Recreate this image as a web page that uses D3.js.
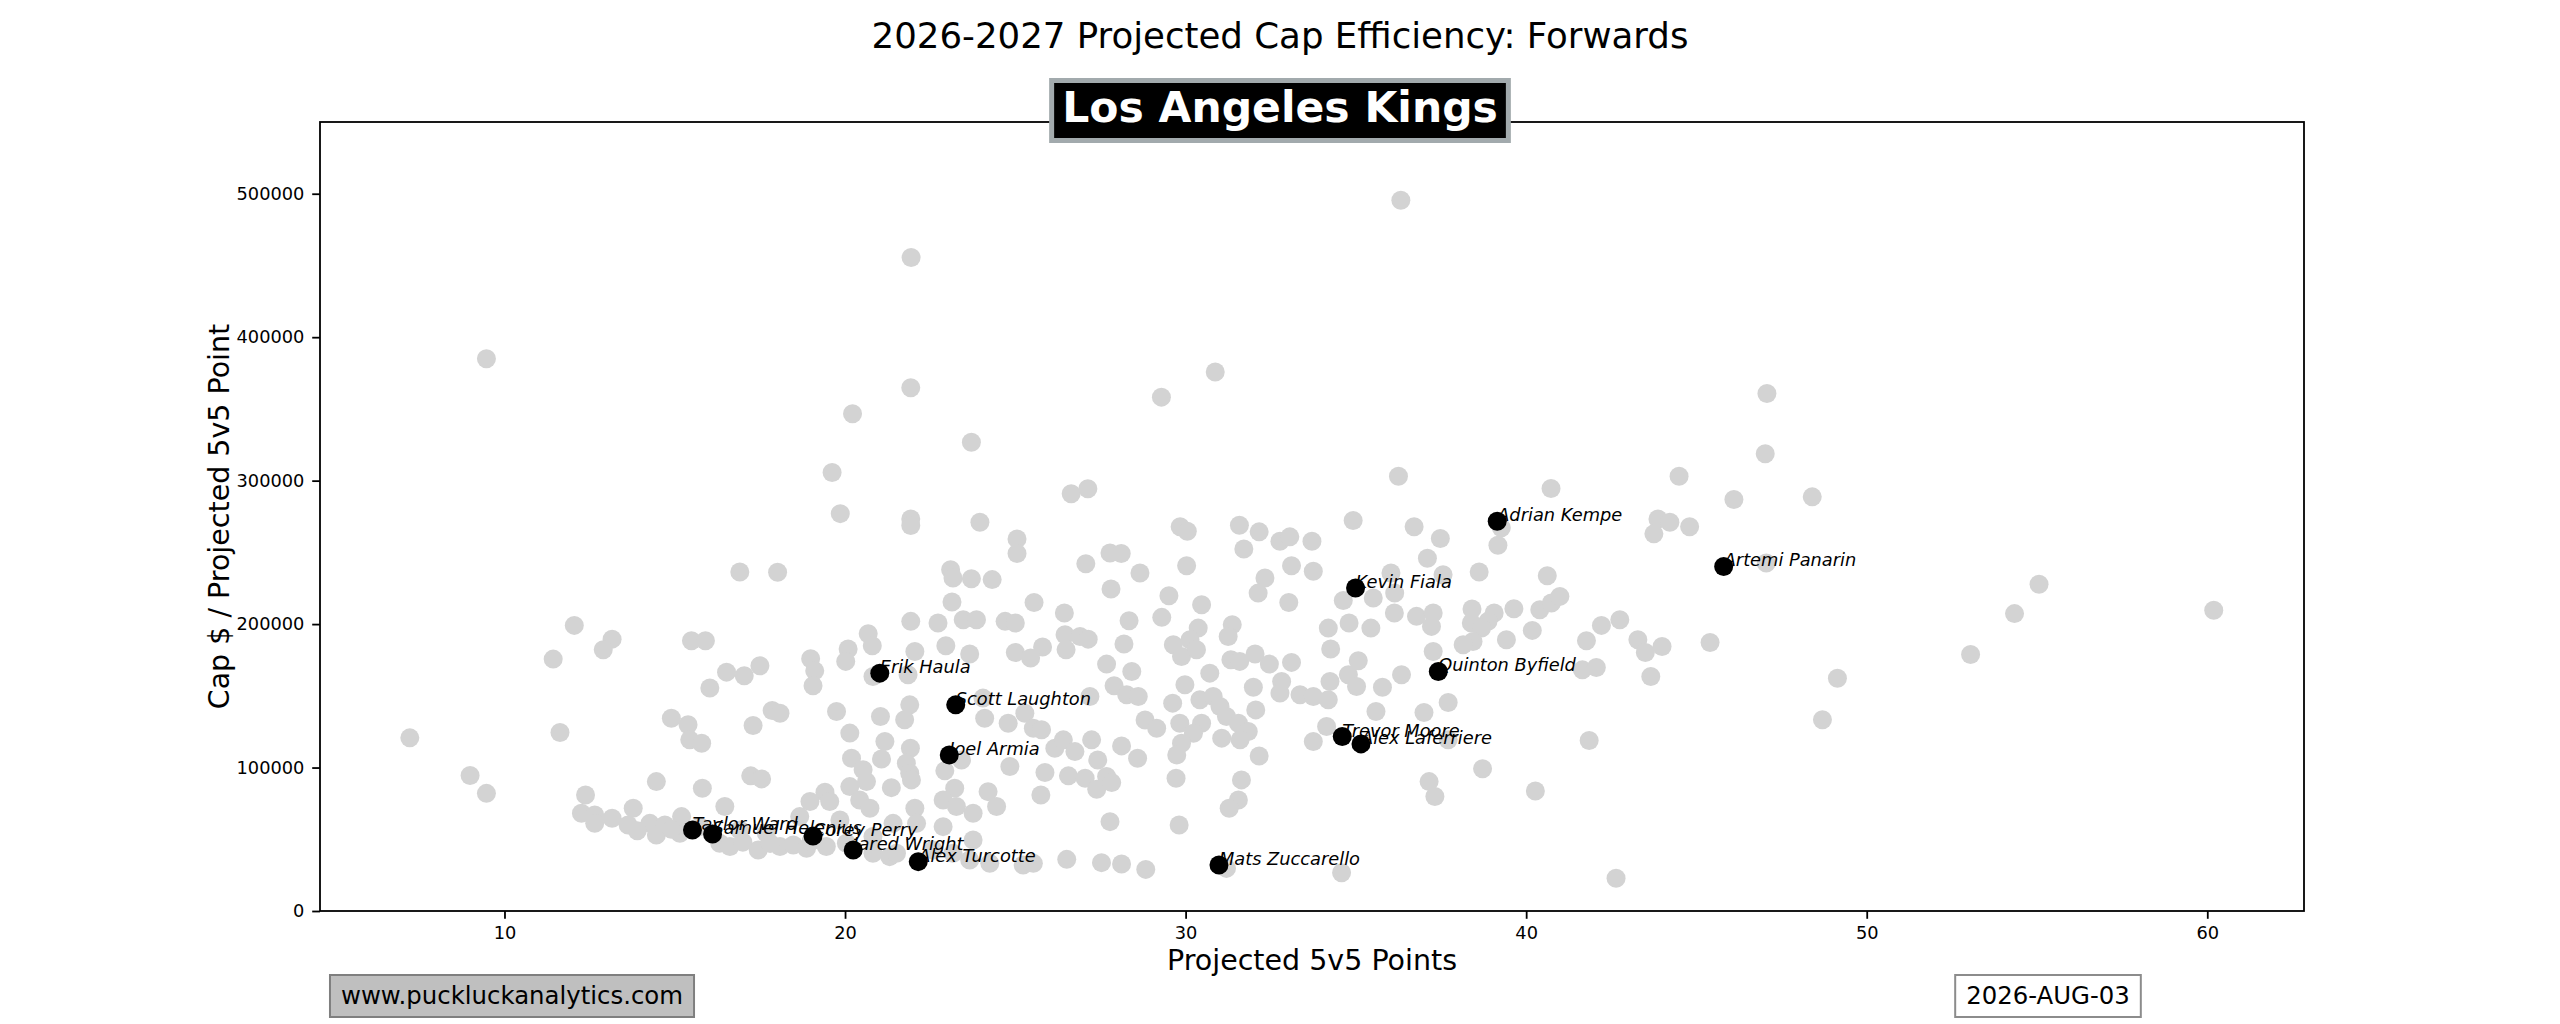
<!DOCTYPE html>
<html>
<head>
<meta charset="utf-8">
<script src="https://cdnjs.cloudflare.com/ajax/libs/d3/7.8.5/d3.min.js"></script>
<style>
  body { margin: 0; background: #fff; }
  svg text { font-family: "DejaVu Sans", sans-serif; }
</style>
</head>
<body>
<div id="chart"></div>
<script>
// league forwards (grey): projected 5v5 points and cap $ per point
const leaguePoints = [
  7.22, 8.99, 9.47, 9.47, 21.94, 36.32, 21.93, 20.22, 23.71, 19.62, 19.86, 21.93, 21.93, 23.96,
  16.91, 18.02, 23.10, 23.17, 23.71, 24.32, 12.05, 13.16, 12.90, 11.43, 15.49, 15.90, 20.68, 20.80,
  20.09, 20.02, 18.99, 19.11, 19.06, 16.52, 17.04, 17.50, 16.03, 21.93, 22.73, 23.14, 23.47, 23.86,
  22.96, 22.05, 23.66, 20.82, 21.85, 14.90, 15.39, 15.44, 15.79, 17.30, 17.86, 18.09, 19.75, 11.63,
  20.14, 21.04, 21.90, 21.75, 24.05, 24.10, 21.17, 21.92, 20.19, 21.07, 21.80, 20.53, 20.63, 21.90,
  21.95, 22.93, 23.42, 14.46, 15.81, 17.23, 17.55, 20.14, 21.36, 19.41, 18.97, 19.55, 12.38, 12.26,
  12.65, 12.65, 13.16, 13.63, 13.78, 14.27, 14.71, 15.20, 16.47, 14.46, 15.15, 20.43, 20.73, 22.05,
  23.22, 22.88, 23.27, 23.76, 24.20, 24.45, 16.32, 16.62, 17.45, 18.09, 18.48, 18.87, 19.45, 20.04,
  20.82, 21.31, 21.51, 22.10, 22.88, 23.66, 24.25, 23.76, 21.41, 19.85, 18.67, 15.74, 16.91, 17.69,
  20.82, 22.59, 23.17, 17.00, 17.80, 19.00, 13.90, 14.90,
  27.07, 28.66, 30.03, 33.11, 33.75, 36.03, 37.56, 27.81, 29.51, 32.33, 32.13, 33.03, 34.63, 35.51,
  36.14, 25.55, 26.44, 24.70, 25.00, 28.34, 29.30, 30.47, 30.37, 31.37, 31.25, 34.80, 35.44, 36.13,
  36.78, 37.27, 37.22, 34.19, 26.46, 26.90, 27.14, 26.49, 25.80, 25.00, 25.45, 28.19, 27.68, 28.42,
  29.64, 30.13, 29.88, 30.32, 31.33, 31.59, 32.04, 32.46, 33.11, 34.26, 35.07, 37.27, 30.71, 29.98,
  31.99, 32.82, 32.77, 34.24, 34.78, 35.02, 35.78, 36.34, 33.36, 33.75, 34.19, 27.90, 28.27, 28.61,
  27.19, 29.62, 30.42, 30.81, 31.01, 32.06, 35.59, 37.00, 37.71, 25.28, 24.79, 25.53, 25.77, 28.81,
  29.15, 29.83, 30.47, 31.20, 31.55, 31.84, 31.60, 31.06, 30.23, 29.88, 29.74, 34.14, 33.75, 37.71,
  26.16, 26.41, 26.75, 27.24, 28.12, 28.59, 27.42, 24.84, 25.87, 26.56, 27.05, 27.68, 27.39, 27.83,
  25.75, 29.72, 31.64, 31.55, 31.28, 32.16, 27.78, 29.81, 37.15, 37.32, 26.51, 27.53, 28.12, 28.83,
  25.23, 25.53, 31.20, 34.58,
  30.87, 29.29, 36.25, 26.64, 27.13, 25.05, 25.05, 27.78, 28.11, 29.84, 30.05, 31.58, 32.16, 32.77,
  33.06, 33.71, 31.71, 34.92, 36.71, 37.48, 37.10,
  47.07, 47.02, 44.49, 48.40, 46.10, 40.73, 43.87, 44.22, 43.75, 44.80, 39.27, 39.17,
  38.62, 40.62, 38.41, 39.06, 39.64, 40.40, 40.74, 40.99, 38.39, 38.88, 38.69, 38.44, 38.15, 39.42,
  40.18, 41.77, 42.21, 42.75, 43.28, 43.50, 43.99, 45.40, 41.65, 42.06, 43.66, 49.14, 48.70, 41.85,
  38.72, 40.27, 42.64, 47.05,
  53.05, 54.34, 55.06, 60.19
];

const leagueCapPerPoint = [
  120700, 94500, 82000, 385000, 455600, 495500, 364800, 346600, 326800, 305700, 277000, 273300, 268700, 271000,
  236300, 236100, 237900, 232100, 231600, 231000, 199100, 189500, 182100, 175600, 188400, 188400, 193300, 184900,
  182600, 174000, 175800, 167400, 157000, 166500, 164000, 170900, 155400, 201900, 200700, 215400, 203000, 203000,
  184900, 180900, 179100, 163500, 164700, 134400, 129800, 119300, 117000, 129300, 139800, 137900, 139100, 124400,
  124000, 135600, 143700, 133300, 148400, 134400, 118100, 113500, 106500, 106000, 103000, 98400, 90200, 96000,
  91400, 97700, 105300, 90200, 85600, 94200, 92100, 86700, 86000, 82800, 76300, 76300, 80900, 68100,
  66900, 61100, 64600, 60000, 71600, 61100, 60000, 65800, 72800, 53000, 54200, 77400, 71600, 71600,
  85600, 77400, 72800, 68100, 83200, 72800, 47200, 44900, 42500, 44900, 46000, 43700, 44900, 47200,
  40200, 37900, 40200, 61100, 58800, 35600, 33200, 49500, 61100, 63500, 65800, 58800, 56500, 54200,
  51900, 42500, 40200, 48000, 47000, 48500, 56000, 57000,
  242100, 235600, 240700, 240700, 236800, 235600, 234400, 224400, 219800, 232100, 221600, 215100, 216500, 218200,
  221600, 215100, 207700, 201900, 200700, 202300, 204700, 213500, 197200, 199500, 191400, 200700, 197200, 207700,
  205400, 207700, 198400, 197200, 192600, 191400, 189500, 182100, 184000, 180200, 176300, 186100, 172100, 167000,
  185600, 189100, 177400, 182100, 175100, 174000, 179100, 172100, 173300, 182600, 174400, 180900, 165800, 157700,
  156000, 160000, 151900, 160000, 164700, 156500, 156000, 164700, 150700, 149500, 147200, 157000, 150700, 149500,
  149500, 144900, 147200, 149500, 142600, 140200, 139100, 138400, 145300, 137900, 130900, 127400, 126300, 133200,
  127400, 130900, 130900, 135600, 130900, 125100, 119300, 120500, 123900, 116900, 108800, 128600, 118100, 119300,
  113500, 119300, 111100, 119300, 115100, 106500, 105300, 100700, 96500, 94200, 92600, 93700, 84900, 89500,
  80900, 92600, 91400, 77400, 71600, 108100, 62300, 60000, 90200, 79800, 36000, 33700, 32800, 29000,
  32100, 33200, 29700, 26700,
  375700, 358200, 303100, 290800, 294300, 259400, 249200, 249600, 249200, 267800, 264700, 268900, 264300, 257800,
  260800, 257800, 252400, 272200, 267800, 259600, 245900,
  360800, 318700, 303100, 288700, 286800, 294500, 273300, 271000, 262900, 267800, 267100, 255000,
  236300, 233700, 210500, 207700, 210700, 210000, 214700, 219300, 200700, 201900, 197200, 187900, 185600, 189100,
  195600, 188400, 199100, 203000, 189100, 180200, 184400, 187200, 168100, 169800, 163500, 162300, 133300, 118800,
  99100, 83700, 22800, 242600,
  178800, 207300, 227800, 209600
];

// Kings forwards (black, labelled)
const kingsPlayers = [
  "Adrian Kempe", "Artemi Panarin", "Kevin Fiala", "Erik Haula", "Quinton Byfield",
  "Scott Laughton", "Trevor Moore", "Alex Laferriere", "Joel Armia", "Taylor Ward",
  "Samuel Helenius", "Corey Perry", "Jared Wright", "Alex Turcotte", "Mats Zuccarello"
];
const kingsPoints = [39.15, 45.80, 34.99, 21.02, 37.42, 23.25, 34.60, 35.15, 23.06, 15.52, 16.11, 19.06, 20.24, 22.15, 30.98];
const kingsCapPerPoint = [271700, 240200, 225100, 165800, 167000, 143700, 121600, 116500, 108800, 56500, 53700, 52300, 42500, 34400, 32100];

const xTicks = [10, 20, 30, 40, 50, 60];
const yTicks = [0, 100000, 200000, 300000, 400000, 500000];

const titleText = "2026-2027 Projected Cap Efficiency: Forwards";
const teamName = "Los Angeles Kings";
const xLabel = "Projected 5v5 Points";
const yLabel = "Cap $ / Projected 5v5 Point";
const siteText = "www.puckluckanalytics.com";
const dateText = "2026-AUG-03";

const width = 2560, height = 1024;
const plot = {left: 320, right: 2304, top: 122, bottom: 911};

const svg = d3.select("#chart").append("svg")
  .attr("width", width)
  .attr("height", height)
  .style("display", "block");

svg.append("rect").attr("width", width).attr("height", height).attr("fill", "#fff");

const x = d3.scaleLinear().domain([4.583, 62.84]).range([plot.left, plot.right]);
const y = d3.scaleLinear().domain([0, 550000]).range([plot.bottom, plot.top]);

// grey league dots
svg.append("g")
  .selectAll("circle")
  .data(d3.range(leaguePoints.length))
  .join("circle")
  .attr("cx", i => x(leaguePoints[i]))
  .attr("cy", i => y(leagueCapPerPoint[i]))
  .attr("r", 9.5)
  .attr("fill", "#d3d3d3");

// name labels sit on the point, baseline at the dot centre
svg.append("g")
  .selectAll("text")
  .data(d3.range(kingsPlayers.length))
  .join("text")
  .attr("x", i => x(kingsPoints[i]))
  .attr("y", i => y(kingsCapPerPoint[i]))
  .attr("font-size", 17.8)
  .attr("font-style", "italic")
  .attr("fill", "#000")
  .text(i => kingsPlayers[i]);

svg.append("g")
  .selectAll("circle")
  .data(d3.range(kingsPlayers.length))
  .join("circle")
  .attr("cx", i => x(kingsPoints[i]))
  .attr("cy", i => y(kingsCapPerPoint[i]))
  .attr("r", 9.5)
  .attr("fill", "#000");

// axes
const xAxis = svg.append("g")
  .attr("transform", "translate(0," + plot.bottom + ")")
  .call(d3.axisBottom(x).tickValues(xTicks).tickFormat(d3.format("d")).tickSize(7.8).tickPadding(7.8));

const yAxis = svg.append("g")
  .attr("transform", "translate(" + plot.left + ",0)")
  .call(d3.axisLeft(y).tickValues(yTicks).tickFormat(d3.format("d")).tickSize(7.8).tickPadding(7.8));

[xAxis, yAxis].forEach(g => {
  g.select(".domain").remove();
  g.attr("font-size", 17.8).attr("font-family", "DejaVu Sans, sans-serif");
  g.selectAll(".tick line").attr("stroke", "#000").attr("stroke-width", 1.8);
  g.selectAll(".tick text").attr("fill", "#000");
});

svg.append("rect")
  .attr("x", plot.left)
  .attr("y", plot.top)
  .attr("width", plot.right - plot.left)
  .attr("height", plot.bottom - plot.top)
  .attr("fill", "none")
  .attr("stroke", "#000")
  .attr("stroke-width", 1.8);

svg.append("text")
  .attr("x", (plot.left + plot.right) / 2)
  .attr("y", 970)
  .attr("text-anchor", "middle")
  .attr("font-size", 28.5)
  .text(xLabel);

svg.append("text")
  .attr("transform", "translate(229," + (plot.top + plot.bottom) / 2 + ") rotate(-90)")
  .attr("text-anchor", "middle")
  .attr("font-size", 28.5)
  .text(yLabel);

// title
svg.append("text")
  .attr("x", width / 2)
  .attr("y", 48)
  .attr("text-anchor", "middle")
  .attr("font-size", 35.6)
  .text(titleText);

// team name box over the top spine
const teamG = svg.append("g");
const teamRect = teamG.append("rect");
const teamLabel = teamG.append("text")
  .attr("x", width / 2)
  .attr("y", 121.7)
  .attr("text-anchor", "middle")
  .attr("font-size", 42.5)
  .attr("font-weight", "bold")
  .attr("fill", "#fff")
  .text(teamName);
let tw = teamLabel.node().getComputedTextLength();
teamRect
  .attr("x", width / 2 - tw / 2 - 10.5)
  .attr("y", 80.5)
  .attr("width", tw + 21)
  .attr("height", 60)
  .attr("fill", "#000")
  .attr("stroke", "#a2aaad")
  .attr("stroke-width", 5);

// footer boxes
function footerBox(cx, label, fill, stroke) {
  let g = svg.append("g");
  let r = g.append("rect");
  let t = g.append("text")
    .attr("x", cx)
    .attr("y", 1004)
    .attr("text-anchor", "middle")
    .attr("font-size", 24.4)
    .attr("fill", "#000")
    .text(label);
  let w = t.node().getComputedTextLength();
  r.attr("x", cx - w / 2 - 11)
    .attr("y", 975)
    .attr("width", w + 22)
    .attr("height", 42)
    .attr("fill", fill)
    .attr("stroke", stroke)
    .attr("stroke-width", 2);
}

footerBox(512, siteText, "#bfbfbf", "#7f7f7f");
footerBox(2048, dateText, "#fff", "#8c8c8c");
</script>
</body>
</html>
